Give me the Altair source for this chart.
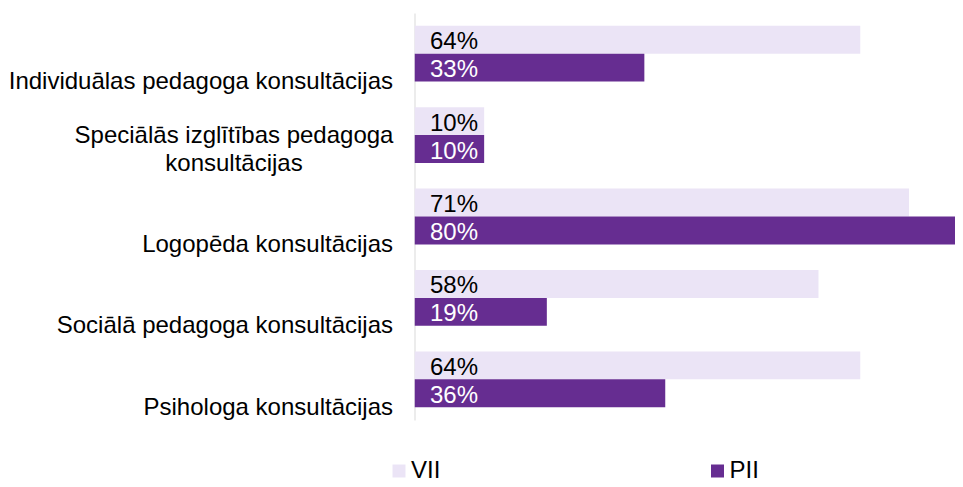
import altair as alt
import pandas as pd

categories = [
    "Individuālas pedagoga konsultācijas",
    "Speciālās izglītības pedagoga konsultācijas",
    "Logopēda konsultācijas",
    "Sociālā pedagoga konsultācijas",
    "Psihologa konsultācijas",
]
series = ["VII", "PII"]
vii_values = [64, 10, 71, 58, 64]
pii_values = [33, 10, 80, 19, 36]

rows = []
for cat, a, b in zip(categories, vii_values, pii_values):
    rows.append({"category": cat, "series": "VII", "value": a})
    rows.append({"category": cat, "series": "PII", "value": b})
df = pd.DataFrame(rows)
df["label"] = df["value"].astype(str) + "%"

FONT = "Liberation Sans"
SPECIAL = categories[1]
test_special = f"datum.value == '{SPECIAL}'"
label_expr = (
    f"datum.value == '{SPECIAL}' ? "
    "['Speciālās izglītības pedagoga', 'konsultācijas'] : datum.label"
)

y_enc = alt.Y(
    "category:N",
    sort=categories,
    scale=alt.Scale(paddingInner=0.314, paddingOuter=0.157),
    axis=alt.Axis(
        title=None, ticks=False, grid=False,
        domainColor="#d9d9d9", domainWidth=1,
        labelFont=FONT, labelFontSize=24, labelColor="#000000",
        labelBaseline="bottom",
        labelAlign={"condition": {"test": test_special, "value": "center"}, "value": "right"},
        labelPadding={"condition": {"test": test_special, "value": 181}, "value": 22},
        labelOffset={"condition": {"test": test_special, "value": 12.9}, "value": 40.5},
        labelLineHeight=27.6, labelLimit=0, labelOverlap=False,
        labelExpr=label_expr,
    ),
)
yoff_enc = alt.YOffset("series:N", sort=series)
x_enc = alt.X("value:Q", scale=alt.Scale(domain=[0, 77.6], nice=False, zero=True), axis=None)

bars = alt.Chart(df).mark_bar(clip=True).encode(
    y=y_enc,
    yOffset=yoff_enc,
    x=x_enc,
    color=alt.Color(
        "series:N",
        scale=alt.Scale(domain=series, range=["#EBE4F6", "#662D91"]),
        legend=alt.Legend(
            title=None, orient="none", legendX=-27.5, legendY=446,
            direction="horizontal", columns=2, columnPadding=264.5,
            symbolType="square", symbolSize=169, symbolStrokeWidth=0,
            labelFont=FONT, labelFontSize=24, labelColor="#000000",
            labelOffset=0, padding=0,
        ),
    ),
)

text = alt.Chart(df).mark_text(
    align="left", baseline="middle", dx=15.5, dy=2.5, font=FONT, fontSize=24
).encode(
    y=y_enc,
    yOffset=yoff_enc,
    x=alt.value(0),
    text="label:N",
    color=alt.condition("datum.series == 'PII'", alt.value("#ffffff"), alt.value("#000000")),
)

chart = (
    alt.layer(bars, text)
    .properties(
        width=540.5,
        height=407,
        padding={"left": 406.5, "top": 5, "right": 0, "bottom": 63},
        autosize=alt.AutoSizeParams(type="none"),
        background="#ffffff",
    )
    .configure_view(stroke=None)
)

chart.save("out.html", embed_options={"renderer": "svg", "actions": False})
